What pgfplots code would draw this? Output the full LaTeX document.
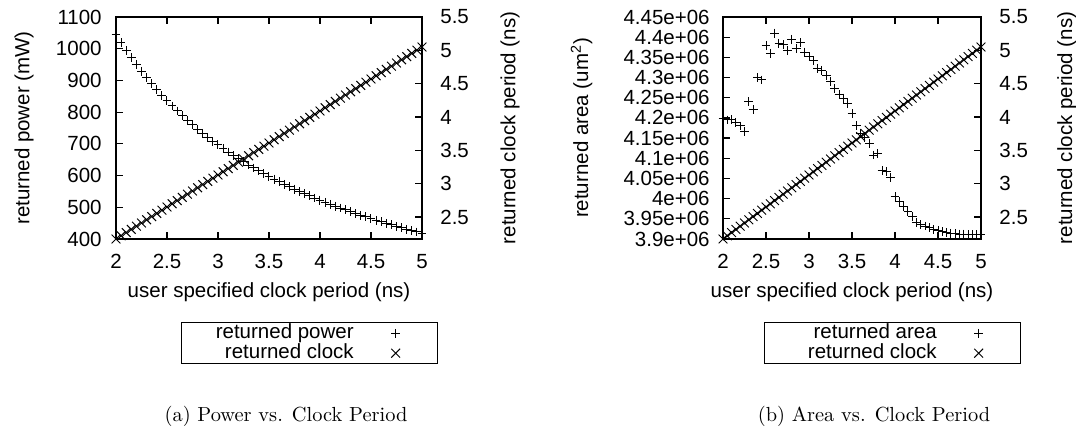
\documentclass[border=0pt]{standalone}
\usepackage{fontspec}
\setsansfont{Liberation Sans}
\usepackage{pgfplots}
\pgfplotsset{compat=1.18}

\pgfplotstableread{
x     power   clock
2.00  1045.0  2.170
2.05  1019.5  2.218
2.10  995.2   2.266
2.15  972.1   2.314
2.20  950.0   2.362
2.25  928.9   2.410
2.30  908.7   2.458
2.35  889.4   2.506
2.40  870.8   2.554
2.45  853.1   2.602
2.50  836.0   2.650
2.55  819.6   2.698
2.60  803.8   2.746
2.65  788.7   2.794
2.70  774.1   2.842
2.75  760.0   2.890
2.80  746.4   2.938
2.85  733.3   2.986
2.90  720.7   3.034
2.95  708.5   3.082
3.00  696.7   3.130
3.05  685.2   3.178
3.10  674.2   3.226
3.15  663.5   3.274
3.20  653.1   3.322
3.25  643.1   3.370
3.30  633.3   3.418
3.35  623.9   3.466
3.40  614.7   3.514
3.45  605.8   3.562
3.50  597.1   3.610
3.55  588.7   3.658
3.60  580.6   3.706
3.65  572.6   3.754
3.70  564.9   3.802
3.75  557.3   3.850
3.80  550.0   3.898
3.85  542.9   3.946
3.90  535.9   3.994
3.95  529.1   4.042
4.00  522.5   4.090
4.05  516.0   4.138
4.10  509.8   4.186
4.15  503.6   4.234
4.20  497.6   4.282
4.25  491.8   4.330
4.30  486.0   4.378
4.35  480.5   4.426
4.40  475.0   4.474
4.45  469.7   4.522
4.50  464.4   4.570
4.55  459.3   4.618
4.60  454.3   4.666
4.65  449.5   4.714
4.70  444.7   4.762
4.75  440.0   4.810
4.80  435.4   4.858
4.85  430.9   4.906
4.90  426.5   4.954
4.95  422.2   5.002
5.00  418.0   5.050
}\powerclock

\pgfplotstableread{
x     area
2.00  4198000
2.05  4195000
2.10  4196000
2.15  4188000
2.20  4180000
2.25  4166000
2.30  4240000
2.35  4220000
2.40  4300000
2.45  4294000
2.50  4380000
2.55  4360000
2.60  4410000
2.65  4385000
2.70  4382000
2.75  4367000
2.80  4395000
2.85  4372000
2.90  4387000
2.95  4363000
3.00  4352000
3.05  4342000
3.10  4323000
3.15  4318000
3.20  4305000
3.25  4290000
3.30  4272000
3.35  4258000
3.40  4249000
3.45  4236000
3.50  4210000
3.55  4182000
3.60  4162000
3.65  4152000
3.70  4137000
3.75  4108000
3.80  4112000
3.85  4069000
3.90  4067000
3.95  4052000
4.00  4005000
4.05  3993000
4.10  3980000
4.15  3968000
4.20  3955000
4.25  3940000
4.30  3935000
4.35  3932000
4.40  3928000
4.45  3924000
4.50  3921000
4.55  3918000
4.60  3916000
4.65  3914000
4.70  3913000
4.75  3912000
4.80  3912000
4.85  3911000
4.90  3911000
4.95  3911000
5.00  3911000
}\areatab

\pgfplotsset{
  gnu/.style={
    scale only axis, height=111pt,
    xmin=2, xmax=5, clip=false,
    font=\sffamily\fontsize{10.25}{12}\selectfont,
    /pgf/number format/assume math mode=true,
    /pgf/number format/1000 sep={},
    tick align=inside, major tick length=3.5pt,
    axis line style={line width=0.8pt},
    every tick/.style={black, line width=0.6pt},
    scaled ticks=false,
    xticklabel style={inner sep=0pt, anchor=north, yshift=-7.5pt},
  },
  leftax/.style={
    xtick={2,2.5,3,3.5,4,4.5,5}, xtick pos=both,
    ytick pos=left,
    yticklabel style={inner sep=0pt, anchor=east, xshift=-7pt},
    xlabel={user specified clock period (ns)},
    every axis x label/.style={at={(axis description cs:0.5,-0.2387)}, anchor=center},
  },
  rightax/.style={
    xtick=\empty,
    ymin=2.17, ymax=5.5, ytick={2.5,3,3.5,4,4.5,5,5.5},
    ytick pos=right, yticklabel pos=right,
    yticklabel style={inner sep=0pt, anchor=west, xshift=9pt},
    ylabel={returned clock period (ns)},
    legend plot pos=right,
    legend style={anchor=north west, draw=black, line width=0.7pt,
      inner xsep=0pt, inner ysep=0.25pt, row sep=0pt, column sep=0pt,
      nodes={inner sep=0pt, text height=7.5pt, text depth=2.5pt}},
  },
  gplegend/.style={legend image code/.code={%
    \path[draw=none, fill=none] (-21pt,-3pt) rectangle (21pt,3pt);
    \draw[##1] plot coordinates {(0pt,0pt)};}},
  pmark/.style={only marks, mark=+, mark size=2.2pt, line width=0.5pt, black, gplegend},
  xmark/.style={only marks, mark=x, mark size=3.1pt, line width=0.5pt, black, gplegend},
}

\begin{document}
\begin{tikzpicture}
\path[use as bounding box] (0pt,0pt) rectangle (538pt,213pt);

% (a) power and returned clock
\begin{axis}[gnu, leftax, at={(58pt,93.5pt)}, anchor=south west, width=153pt,
  ymin=400, ymax=1100, ytick={400,500,600,700,800,900,1000,1100},
  ylabel={returned power (mW)},
  every axis y label/.style={at={(axis description cs:-0.3007,0.5)}, rotate=90, anchor=center}]
\addplot[pmark] table[x=x, y=power] {\powerclock};
\end{axis}
\begin{axis}[gnu, rightax, at={(58pt,93.5pt)}, anchor=south west, width=153pt,
  every axis y label/.style={at={(axis description cs:1.2876,0.5)}, rotate=90, anchor=center},
  legend style={at={(axis description cs:0.2124,-0.3739)}}]
\addlegendimage{pmark}
\addlegendentry{\makebox[86pt][r]{returned power}}
\addplot[xmark] table[x=x, y=clock] {\powerclock};
\addlegendentry{\makebox[86pt][r]{returned clock}}
\end{axis}

% (b) area and returned clock
\begin{axis}[gnu, leftax, at={(361.5pt,93.5pt)}, anchor=south west, width=129pt,
  ymin=3900000, ymax=4450000,
  ytick={3900000,3950000,4000000,4050000,4100000,4150000,4200000,4250000,4300000,4350000,4400000,4450000},
  yticklabels={3.9e+06,3.95e+06,4e+06,4.05e+06,4.1e+06,4.15e+06,4.2e+06,4.25e+06,4.3e+06,4.35e+06,4.4e+06,4.45e+06},
  yticklabel style={xshift=0.5pt},
  ylabel={returned area (um\textsuperscript{2})},
  every axis y label/.style={at={(axis description cs:-0.5477,0.5)}, rotate=90, anchor=center}]
\addplot[pmark] table[x=x, y=area] {\areatab};
\end{axis}
\begin{axis}[gnu, rightax, at={(361.5pt,93.5pt)}, anchor=south west, width=129pt,
  every axis y label/.style={at={(axis description cs:1.3322,0.5)}, rotate=90, anchor=center},
  legend style={at={(axis description cs:0.1589,-0.3739)}}]
\addlegendimage{pmark}
\addlegendentry{\makebox[86pt][r]{returned area}}
\addplot[xmark] table[x=x, y=clock] {\powerclock};
\addlegendentry{\makebox[86pt][r]{returned clock}}
\end{axis}

\node[anchor=base, font=\rmfamily\fontsize{10.2}{12}\selectfont] at (143pt,2.2pt) {(a) Power vs. Clock Period};
\node[anchor=base, font=\rmfamily\fontsize{10.2}{12}\selectfont] at (437pt,2.2pt) {(b) Area vs. Clock Period};
\end{tikzpicture}
\end{document}
